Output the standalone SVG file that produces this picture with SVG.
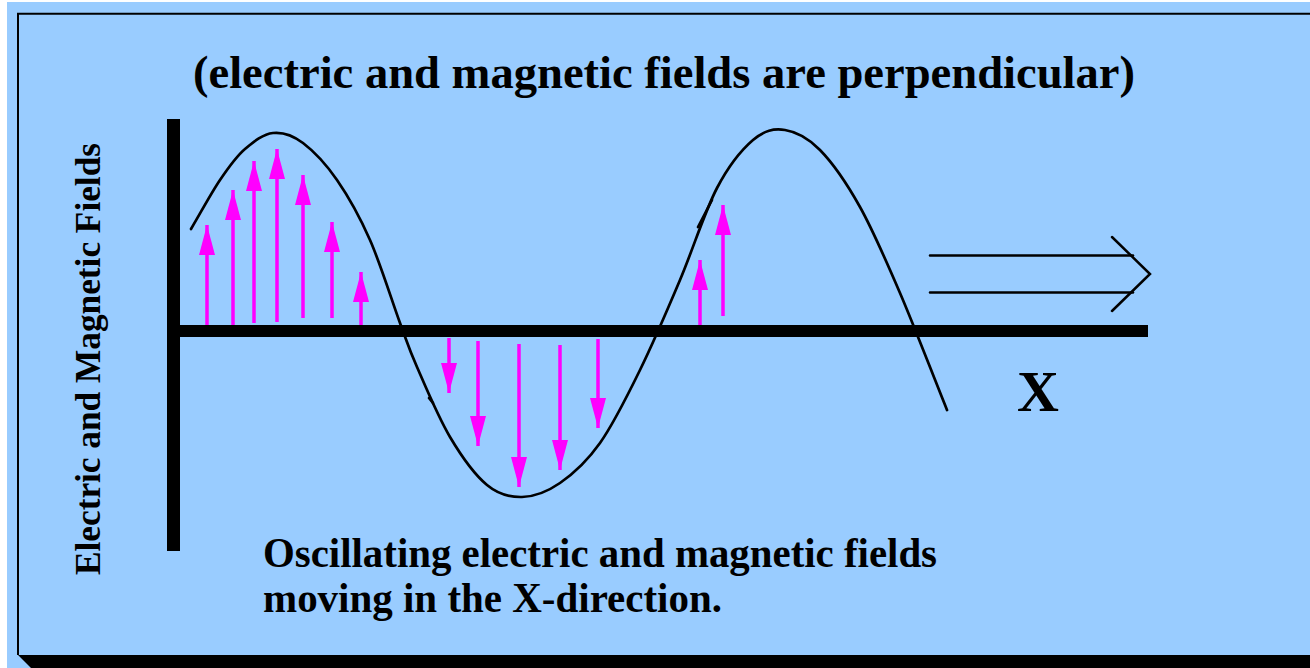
<svg xmlns="http://www.w3.org/2000/svg" width="1310" height="668" viewBox="0 0 1310 668">
<defs>
<style>
.t{font-family:"Liberation Serif","Times New Roman",serif;font-weight:bold;fill:#000}
.ar{stroke:#FF00FF;stroke-width:3.5;fill:none;marker-end:url(#mh)}
.wave{fill:none;stroke:#000;stroke-width:2.7;stroke-linecap:round;stroke-linejoin:round}
</style>
<marker id="mh" markerUnits="userSpaceOnUse" markerWidth="32" markerHeight="18" refX="30" refY="8" orient="auto" viewBox="0 0 32 18">
<path d="M0,0 L30,8 L0,16 z" fill="#FF00FF"/>
</marker>
</defs>
<rect x="0" y="0" width="1310" height="668" fill="#FFFFFF"/>
<rect x="7" y="2" width="1303" height="666" fill="#99CCFF"/>
<g id="frame">
<line x1="17" y1="13.7" x2="1310" y2="13.7" stroke="#000" stroke-width="2"/>
<line x1="18" y1="13" x2="18" y2="655" stroke="#000" stroke-width="2"/>
<polygon points="18,655 1310,655 1310,668 31,668" fill="#000"/>
</g>
<g id="title"><text class="t" x="193" y="88" font-size="46.5" textLength="942" lengthAdjust="spacingAndGlyphs">(electric and magnetic fields are perpendicular)</text></g>
<g id="y-label"><text class="t" transform="translate(100,575) rotate(-90)" font-size="35" textLength="432" lengthAdjust="spacingAndGlyphs">Electric and Magnetic Fields</text></g>
<g id="axes">
<rect x="167" y="119" width="13" height="432" fill="#000"/>
<rect x="167" y="325" width="981" height="12" fill="#000"/>
</g>
<g id="wave">
<path class="wave" d="M191,229 C200.7,212.7 211,193.3 220,180 C229,166.7 235.8,156.8 245,149 C254.2,141.2 263.3,134 273,133 C282.7,132 292.7,135.2 303,143 C313.3,150.8 325.8,163.8 337,180 C348.2,196.2 359.5,216.2 370,240 C380.5,263.8 392.2,301.8 400,323 C407.8,344.2 408.7,348 417,367 C425.3,386 438.3,417.3 450,437 C461.7,456.7 475,475 487,485 C499,495 509.8,497.3 522,497 C534.2,496.7 547,492 560,483 C573,474 586.7,461.8 600,443 C613.3,424.2 626.7,397.2 640,370 C653.3,342.8 667.2,310.3 680,280 C692.8,249.7 704.8,211.3 717,188 C729.2,164.7 741.7,149.7 753,140 C764.3,130.3 773.8,128.3 785,130 C796.2,131.7 807.5,137.2 820,150 C832.5,162.8 846.7,183.2 860,207 C873.3,230.8 885.5,259.2 900,293 C914.5,326.8 931.3,371 947,410"/>
<path class="wave" d="M698,227 L712,200"/>
<path class="wave" d="M429,398 L433,403"/>
</g>
<g id="field-arrows">
<line class="ar" x1="207" y1="325" x2="207" y2="225"/>
<line class="ar" x1="233" y1="325" x2="233" y2="190"/>
<line class="ar" x1="254" y1="323" x2="254" y2="161"/>
<line class="ar" x1="277" y1="322" x2="277" y2="149"/>
<line class="ar" x1="303" y1="318" x2="303" y2="175"/>
<line class="ar" x1="332" y1="318" x2="332" y2="222"/>
<line class="ar" x1="361" y1="325" x2="361" y2="272"/>
<line class="ar" x1="449" y1="338" x2="449" y2="393"/>
<line class="ar" x1="478" y1="341" x2="478" y2="446"/>
<line class="ar" x1="519" y1="344" x2="519" y2="487"/>
<line class="ar" x1="560" y1="345" x2="560" y2="470"/>
<line class="ar" x1="598" y1="339" x2="598" y2="428"/>
<line class="ar" x1="700" y1="325" x2="700" y2="260"/>
<line class="ar" x1="723" y1="316" x2="723" y2="205"/>
</g>
<g id="direction-arrow" fill="none" stroke="#000" stroke-width="2.5" stroke-linecap="round" stroke-linejoin="miter">
<line x1="930" y1="255.5" x2="1133" y2="255.5"/>
<line x1="930" y1="292.5" x2="1133" y2="292.5"/>
<polyline points="1112,237 1150,274 1112,311"/>
</g>
<g id="x-label"><text class="t" x="1017" y="411" font-size="58">X</text></g>
<g id="caption">
<text class="t" x="263" y="567" font-size="43" textLength="674" lengthAdjust="spacingAndGlyphs">Oscillating electric and magnetic fields</text>
<text class="t" x="263" y="612" font-size="43" textLength="459" lengthAdjust="spacingAndGlyphs">moving in the X-direction.</text>
</g>
</svg>
